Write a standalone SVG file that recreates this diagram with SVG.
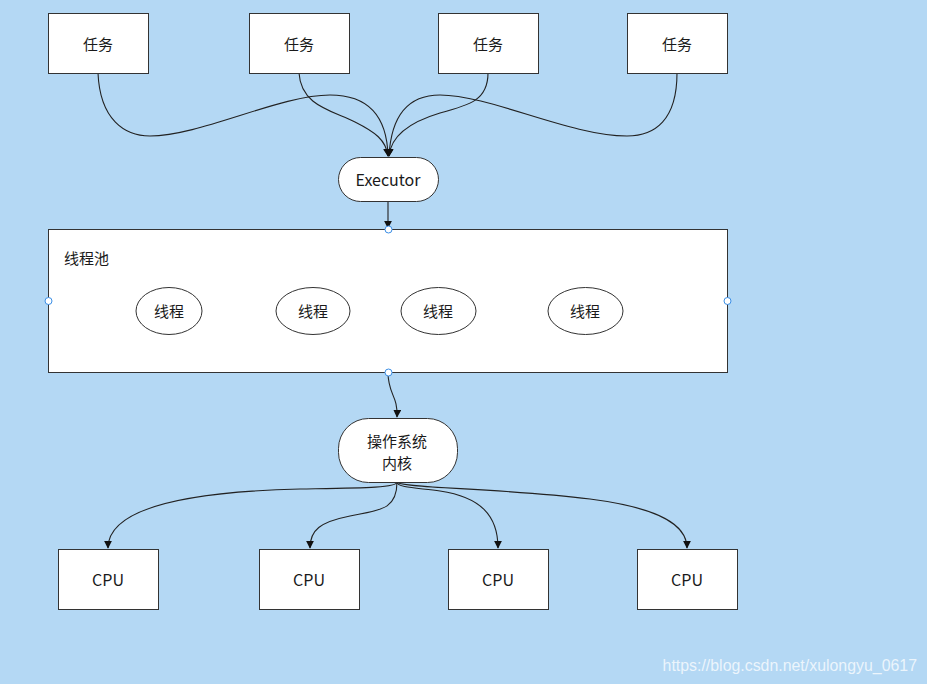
<svg xmlns="http://www.w3.org/2000/svg" width="927" height="684" viewBox="0 0 927 684">
<defs>
<style>
.box{fill:#ffffff;stroke:#333333;stroke-width:1}
.lbl{font-family:"Noto Sans CJK SC","Microsoft YaHei",sans-serif;font-size:15px;fill:#1a1a1a;text-anchor:middle;dominant-baseline:central}
.edge{fill:none;stroke:#222222;stroke-width:1.1}
.handle{fill:#ffffff;stroke:#3a8ee6;stroke-width:1}
</style>
<marker id="arr" viewBox="0 0 10 10" refX="9" refY="5" markerWidth="8" markerHeight="8" markerUnits="userSpaceOnUse" orient="auto">
<path d="M0,0 L10,5 L0,10 z" fill="#111111"/>
</marker>
</defs>
<rect x="0" y="0" width="927" height="684" fill="#b4d8f4"/>

<g id="connectors">
<path class="edge" d="M98,73 C100,120 125,136 150,136 C200,136 280,95 330,95 C370,95 387,118 388,156" marker-end="url(#arr)"/>
<path class="edge" d="M299,73 C301,105 330,110 355,122 C375,132 386,140 388,156" marker-end="url(#arr)"/>
<path class="edge" d="M488,73 C488,100 470,105 440,113 C410,122 391,135 389,156" marker-end="url(#arr)"/>
<path class="edge" d="M677,73 C677,120 655,136 627,136 C570,136 490,95 440,95 C405,95 391,120 389,156" marker-end="url(#arr)"/>
<path class="edge" d="M388,201 L388,228" marker-end="url(#arr)"/>
<path class="edge" d="M388,372 C388,395 398,395 397,417" marker-end="url(#arr)"/>
<path class="edge" d="M397,482 C397,488 360,488 300,489 C180,492 108,510 108,548" marker-end="url(#arr)"/>
<path class="edge" d="M397,482 C397,510 380,510 350,516 C320,522 310,530 310,548" marker-end="url(#arr)"/>
<path class="edge" d="M397,482 C397,488 420,488 440,491 C480,497 498,515 498,548" marker-end="url(#arr)"/>
<path class="edge" d="M397,482 C397,488 500,488 590,499 C660,508 687,525 687,548" marker-end="url(#arr)"/>
</g>

<g id="task1"><rect class="box" x="48.5" y="13.5" width="100" height="60"/><text class="lbl" x="98" y="43">任务</text></g>
<g id="task2"><rect class="box" x="249.5" y="13.5" width="100" height="60"/><text class="lbl" x="299" y="43">任务</text></g>
<g id="task3"><rect class="box" x="438.5" y="13.5" width="100" height="60"/><text class="lbl" x="488" y="43">任务</text></g>
<g id="task4"><rect class="box" x="627.5" y="13.5" width="100" height="60"/><text class="lbl" x="677" y="43">任务</text></g>

<g id="executor"><rect class="box" x="338.5" y="157.5" width="100" height="44" rx="22" ry="22"/><text class="lbl" x="388" y="179" style="font-size:16px">Executor</text></g>

<g id="threadpool">
<rect class="box" x="48.5" y="229.5" width="679" height="143"/>
<text class="lbl" x="64" y="257" style="text-anchor:start">线程池</text>
<circle class="handle" cx="388.5" cy="229.5" r="3.5"/>
<circle class="handle" cx="48.5" cy="301" r="3.5"/>
<circle class="handle" cx="727.5" cy="301" r="3.5"/>
<circle class="handle" cx="388.5" cy="372.5" r="3.5"/>
</g>
<g id="thread1"><ellipse class="box" cx="169" cy="311" rx="33" ry="23.5"/><text class="lbl" x="169" y="310">线程</text></g>
<g id="thread2"><ellipse class="box" cx="313" cy="311" rx="37" ry="23.5"/><text class="lbl" x="313" y="310">线程</text></g>
<g id="thread3"><ellipse class="box" cx="438.5" cy="311" rx="37.5" ry="23.5"/><text class="lbl" x="438" y="310">线程</text></g>
<g id="thread4"><ellipse class="box" cx="585.5" cy="311" rx="37.5" ry="23.5"/><text class="lbl" x="585" y="310">线程</text></g>

<g id="kernel"><rect class="box" x="338.5" y="418.5" width="119" height="64" rx="30" ry="30"/><text class="lbl" x="397" y="440">操作系统</text><text class="lbl" x="397" y="462">内核</text></g>

<g id="cpu1"><rect class="box" x="58.5" y="549.5" width="100" height="60"/><text class="lbl" x="108" y="579" style="font-size:16px">CPU</text></g>
<g id="cpu2"><rect class="box" x="259.5" y="549.5" width="100" height="60"/><text class="lbl" x="309" y="579" style="font-size:16px">CPU</text></g>
<g id="cpu3"><rect class="box" x="448.5" y="549.5" width="100" height="60"/><text class="lbl" x="498" y="579" style="font-size:16px">CPU</text></g>
<g id="cpu4"><rect class="box" x="637.5" y="549.5" width="100" height="60"/><text class="lbl" x="687" y="579" style="font-size:16px">CPU</text></g>

<text x="917" y="671" style="font-family:'Liberation Sans',Arial,sans-serif;font-size:15.9px;fill:#ffffff;fill-opacity:0.75;text-anchor:end">https://blog.csdn.net/xulongyu_0617</text>
</svg>
